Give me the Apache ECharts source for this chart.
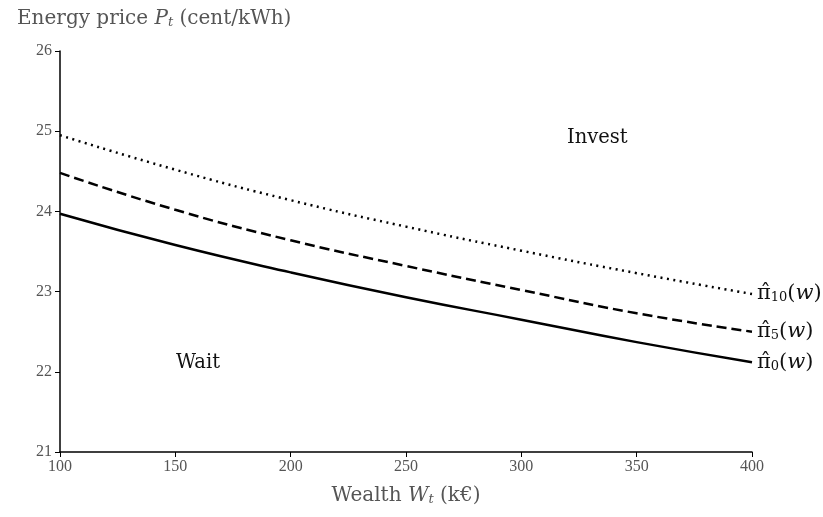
<!DOCTYPE html>
<html>
<head>
<meta charset="utf-8">
<script src="https://cdn.jsdelivr.net/npm/echarts@6/dist/echarts.min.js"></script>
<style>html,body{margin:0;padding:0;background:#fff}#c{width:823px;height:517px}</style>
</head>
<body>
<div id="c"></div>
<script>
var wealth = [100, 150, 200, 250, 300, 350, 400];
var pi10 = [24.95, 24.52, 24.14, 23.81, 23.51, 23.23, 22.97];
var pi5  = [24.48, 24.02, 23.64, 23.32, 23.02, 22.73, 22.50];
var pi0  = [23.97, 23.58, 23.24, 22.93, 22.65, 22.37, 22.12];
var yTicks = [21, 22, 23, 24, 25, 26];
var xTicks = [100, 150, 200, 250, 300, 350, 400];

var FONT = 'DejaVu Serif';
var TICKFONT = 'Liberation Serif';
function pairs(v) { return wealth.map(function (w, i) { return [w, v[i]]; }); }
function endLab(sub) {
  return {
    show: true,
    distance: 5,
    formatter: '{p|π̂}{s|' + sub + '}{w|(}{i|w}{w|)}',
    rich: {
      p: { fontFamily: FONT, fontSize: 21, color: '#111' },
      s: { fontFamily: FONT, fontSize: 13, color: '#111', padding: [8, 0, 0, 0] },
      w: { fontFamily: FONT, fontSize: 21, color: '#111' },
      i: { fontFamily: FONT, fontSize: 21, fontStyle: 'italic', color: '#111' }
    }
  };
}
function line(name, data, type, sub) {
  return {
    name: name, type: 'line', data: pairs(data), smooth: true, symbol: 'none',
    lineStyle: { color: '#000', width: 2.5, type: type },
    endLabel: endLab(sub), z: 3, silent: true
  };
}
var nameRich = {
  i: { fontFamily: FONT, fontSize: 20, fontStyle: 'italic', color: '#555' },
  s: { fontFamily: FONT, fontSize: 13, fontStyle: 'italic', color: '#555', padding: [8, 0, 0, 0] }
};

var chart = echarts.init(document.getElementById('c'));
chart.setOption({
  animation: false,
  grid: { left: 60, right: 71, top: 51, bottom: 65 },
  title: {
    left: 12, top: 3,
    text: 'Energy price {i|P}{s|t} (cent/kWh)',
    textStyle: { fontFamily: FONT, fontSize: 20, fontWeight: 'normal', color: '#555', rich: nameRich }
  },
  xAxis: {
    type: 'value', min: 100, max: 400, interval: 50,
    name: 'Wealth {i|W}{s|t} (k€)', nameLocation: 'middle', nameGap: 33,
    nameTextStyle: { fontFamily: FONT, fontSize: 20, color: '#555', rich: nameRich },
    axisLine: { lineStyle: { color: '#000', width: 1.5 } },
    axisTick: { show: true, length: 5, lineStyle: { color: '#000', width: 1 } },
    axisLabel: { fontFamily: TICKFONT, fontSize: 16, color: '#555', margin: 7,
      formatter: function (v) { return xTicks.indexOf(v) >= 0 ? String(v) : ''; } },
    splitLine: { show: false }
  },
  yAxis: {
    type: 'value', min: 21, max: 26, interval: 1,
    axisLine: { show: true, lineStyle: { color: '#000', width: 1.5 } },
    axisTick: { show: true, length: 5, lineStyle: { color: '#000', width: 1 } },
    axisLabel: { fontFamily: TICKFONT, fontSize: 16, color: '#555', margin: 8,
      formatter: function (v) { return yTicks.indexOf(v) >= 0 ? String(v) : ''; } },
    splitLine: { show: false }
  },
  graphic: [
    { type: 'text', left: 567, top: 128, style: { text: 'Invest', font: '19.5px "DejaVu Serif"', fill: '#111' } },
    { type: 'text', left: 176, top: 353, style: { text: 'Wait', font: '19.5px "DejaVu Serif"', fill: '#111' } }
  ],
  series: [
    line('pi10', pi10, [2, 4.5], '10'),
    line('pi5', pi5, [10, 5], '5'),
    line('pi0', pi0, 'solid', '0')
  ]
});
</script>
</body>
</html>
